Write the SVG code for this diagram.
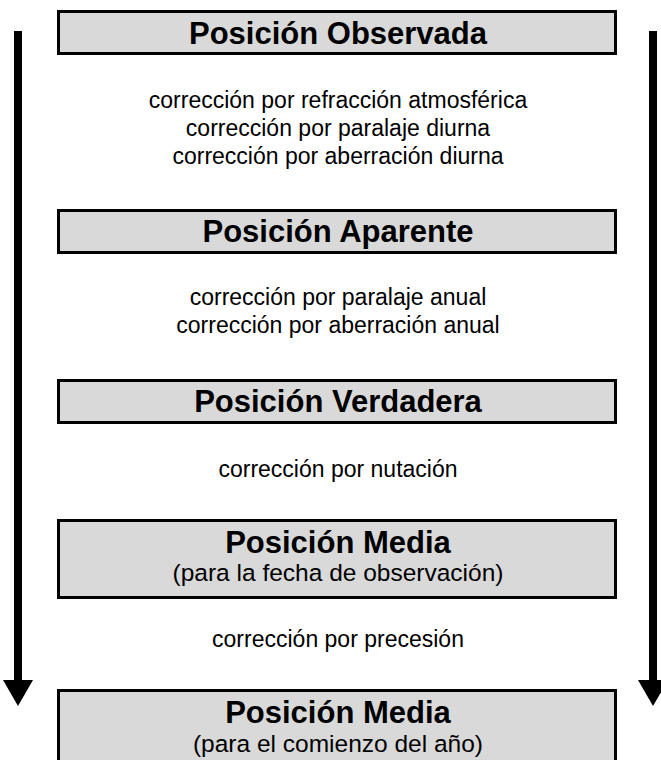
<svg xmlns="http://www.w3.org/2000/svg" width="661" height="760" viewBox="0 0 661 760">
<style>
.box{fill:#d9d9d9;stroke:#000;stroke-width:3}
.t{font-family:"Liberation Sans",Arial,sans-serif;font-weight:bold;font-size:31px;text-anchor:middle;fill:#000}
.s{font-family:"Liberation Sans",Arial,sans-serif;font-size:23px;text-anchor:middle;fill:#000}
.u{font-family:"Liberation Sans",Arial,sans-serif;font-size:24.5px;text-anchor:middle;fill:#000}
.ln{stroke:#000;stroke-width:8;fill:none}
.ah{fill:#000}
</style>
<g id="connectors">
<line class="ln" x1="18" y1="31" x2="18" y2="682"/>
<path class="ah" d="M3,680 L33,680 L18,706 Z"/>
<line class="ln" x1="653" y1="31" x2="653" y2="682"/>
<path class="ah" d="M638,680 L668,680 L653,706 Z"/>
</g>
<g id="n1">
<rect class="box" x="58.5" y="11.5" width="557" height="42"/>
<text class="t" x="338" y="44">Posición Observada</text>
</g>
<g id="c1">
<text class="s" x="338" y="108">corrección por refracción atmosférica</text>
<text class="s" x="338" y="136">corrección por paralaje diurna</text>
<text class="s" x="338" y="164">corrección por aberración diurna</text>
</g>
<g id="n2">
<rect class="box" x="58.5" y="210.5" width="557" height="42"/>
<text class="t" x="338" y="242">Posición Aparente</text>
</g>
<g id="c2">
<text class="s" x="338" y="305">corrección por paralaje anual</text>
<text class="s" x="338" y="333">corrección por aberración anual</text>
</g>
<g id="n3">
<rect class="box" x="58.5" y="380.5" width="557" height="42"/>
<text class="t" x="338" y="412">Posición Verdadera</text>
</g>
<g id="c3">
<text class="s" x="338" y="477">corrección por nutación</text>
</g>
<g id="n4">
<rect class="box" x="58.5" y="520.5" width="557" height="77"/>
<text class="t" x="338" y="553">Posición Media</text>
<text class="u" x="338" y="581">(para la fecha de observación)</text>
</g>
<g id="c4">
<text class="s" x="338" y="647">corrección por precesión</text>
</g>
<g id="n5">
<rect class="box" x="58.5" y="690.5" width="557" height="80"/>
<text class="t" x="338" y="723">Posición Media</text>
<text class="u" x="338" y="752">(para el comienzo del año)</text>
</g>
</svg>
